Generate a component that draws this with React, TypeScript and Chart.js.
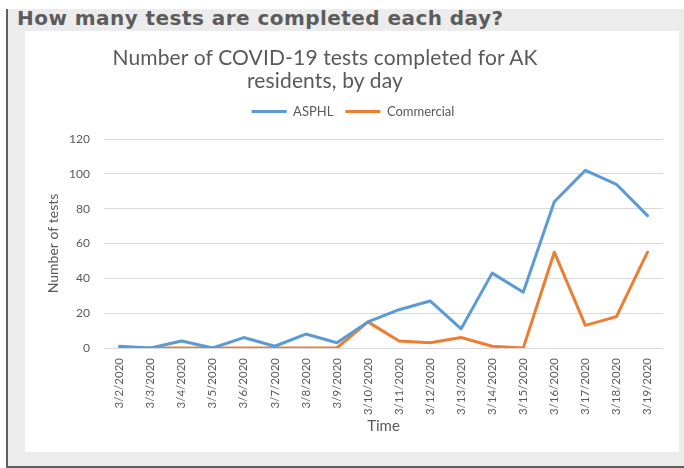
import React, { useEffect, useRef } from 'react';
import { Chart, registerables } from 'chart.js';

Chart.register(...registerables);

const categories = [
  '3/2/2020', '3/3/2020', '3/4/2020', '3/5/2020', '3/6/2020', '3/7/2020',
  '3/8/2020', '3/9/2020', '3/10/2020', '3/11/2020', '3/12/2020', '3/13/2020',
  '3/14/2020', '3/15/2020', '3/16/2020', '3/17/2020', '3/18/2020', '3/19/2020',
];
const asphl = [1, 0, 4, 0, 6, 1, 8, 3, 15, 22, 27, 11, 43, 32, 84, 102, 94, 76];
const commercial = [0, 0, 0, 0, 0, 0, 0, 0, 15, 4, 3, 6, 1, 0, 55, 13, 18, 55];
const yMin = 0;
const yMax = 120;
const yStep = 20;

const pageTitle = 'How many tests are completed each day?';
const chartTitleLines = ['Number of COVID-19 tests completed for AK', 'residents, by day'];
const yAxisTitle = 'Number of tests';
const xAxisTitle = 'Time';

const TEXT = '#595959';
const GRID = '#d9d9d9';
const FONT = 'Lato';

export default function App() {
  const ref = useRef<HTMLCanvasElement>(null);

  useEffect(() => {
    const chart = new Chart(ref.current as HTMLCanvasElement, {
      type: 'line',
      data: {
        labels: categories,
        datasets: [
          {
            label: 'ASPHL',
            data: asphl,
            borderColor: '#5b9bd5',
            backgroundColor: '#5b9bd5',
            borderWidth: 3,
            pointRadius: 0,
            tension: 0,
            borderJoinStyle: 'round',
            borderCapStyle: 'round',
          },
          {
            label: 'Commercial',
            data: commercial,
            borderColor: '#ed7d31',
            backgroundColor: '#ed7d31',
            borderWidth: 3,
            pointRadius: 0,
            tension: 0,
            borderJoinStyle: 'round',
            borderCapStyle: 'round',
          },
        ],
      },
      options: {
        responsive: false,
        animation: false,
        layout: { padding: { top: 62, right: 16, bottom: 0, left: 18 } },
        plugins: {
          legend: {
            position: 'top',
            labels: {
              usePointStyle: true,
              pointStyle: 'line',
              pointStyleWidth: 35,
              padding: 12,
              color: TEXT,
              font: { family: FONT, size: 13 },
            },
          },
          subtitle: {
            display: true,
            text: '',
            weight: 500,
            padding: 0,
            font: { family: FONT, size: 12, lineHeight: '11px' },
          },
          title: { display: false },
          tooltip: { enabled: false },
        },
        scales: {
          x: {
            offset: true,
            grid: { display: false, drawTicks: false },
            border: { display: false },
            ticks: {
              autoSkip: false,
              minRotation: 90,
              maxRotation: 90,
              padding: 10,
              color: TEXT,
              font: { family: FONT, size: 11.5 },
            },
            title: {
              display: true,
              text: xAxisTitle,
              color: TEXT,
              font: { family: FONT, size: 15 },
              padding: { top: 0, bottom: 17 },
            },
            afterFit: (s: any) => {
              s.height = 104;
            },
          },
          y: {
            min: yMin,
            max: yMax,
            grid: { color: GRID, lineWidth: 1, drawTicks: false },
            border: { display: false },
            ticks: {
              stepSize: yStep,
              padding: 14,
              color: TEXT,
              font: { family: FONT, size: 12 },
            },
            title: {
              display: true,
              text: yAxisTitle,
              color: TEXT,
              font: { family: FONT, size: 14 },
              padding: { top: 2, bottom: 0 },
            },
            afterFit: (s: any) => {
              s.width = 61;
            },
          },
        },
      },
    } as any);
    return () => chart.destroy();
  }, []);

  return (
    <div
      style={{
        position: 'absolute',
        left: 0,
        top: 0,
        width: 684,
        height: 468,
        background: '#ffffff',
        overflow: 'hidden',
      }}
    >
      <div
        style={{
          position: 'absolute',
          left: 6,
          top: 9,
          width: 678,
          height: 459,
          boxSizing: 'border-box',
          background: '#ececec',
          borderLeft: '2px solid #5f5f5f',
          borderBottom: '2px solid #5f5f5f',
        }}
      />
      <div
        style={{
          position: 'absolute',
          left: 17,
          top: 6,
          whiteSpace: 'nowrap',
          fontFamily: '"DejaVu Sans", Verdana, sans-serif',
          fontWeight: 'bold',
          fontSize: 20,
          letterSpacing: '0.45px',
          lineHeight: 'normal',
          color: '#5c5c5c',
        }}
      >
        {pageTitle}
      </div>
      <div
        style={{
          position: 'absolute',
          left: 25,
          top: 31,
          width: 654,
          height: 421,
          background: '#ffffff',
        }}
      >
        <canvas ref={ref} width={654} height={421} style={{ display: 'block' }} />
      </div>
      <div
        style={{
          position: 'absolute',
          left: 0,
          top: 45,
          width: 650,
          textAlign: 'center',
          fontFamily: FONT,
          fontSize: 21,
          letterSpacing: '0.15px',
          lineHeight: '23px',
          color: TEXT,
        }}
      >
        {chartTitleLines.map((l) => (
          <div key={l}>{l}</div>
        ))}
      </div>
    </div>
  );
}
